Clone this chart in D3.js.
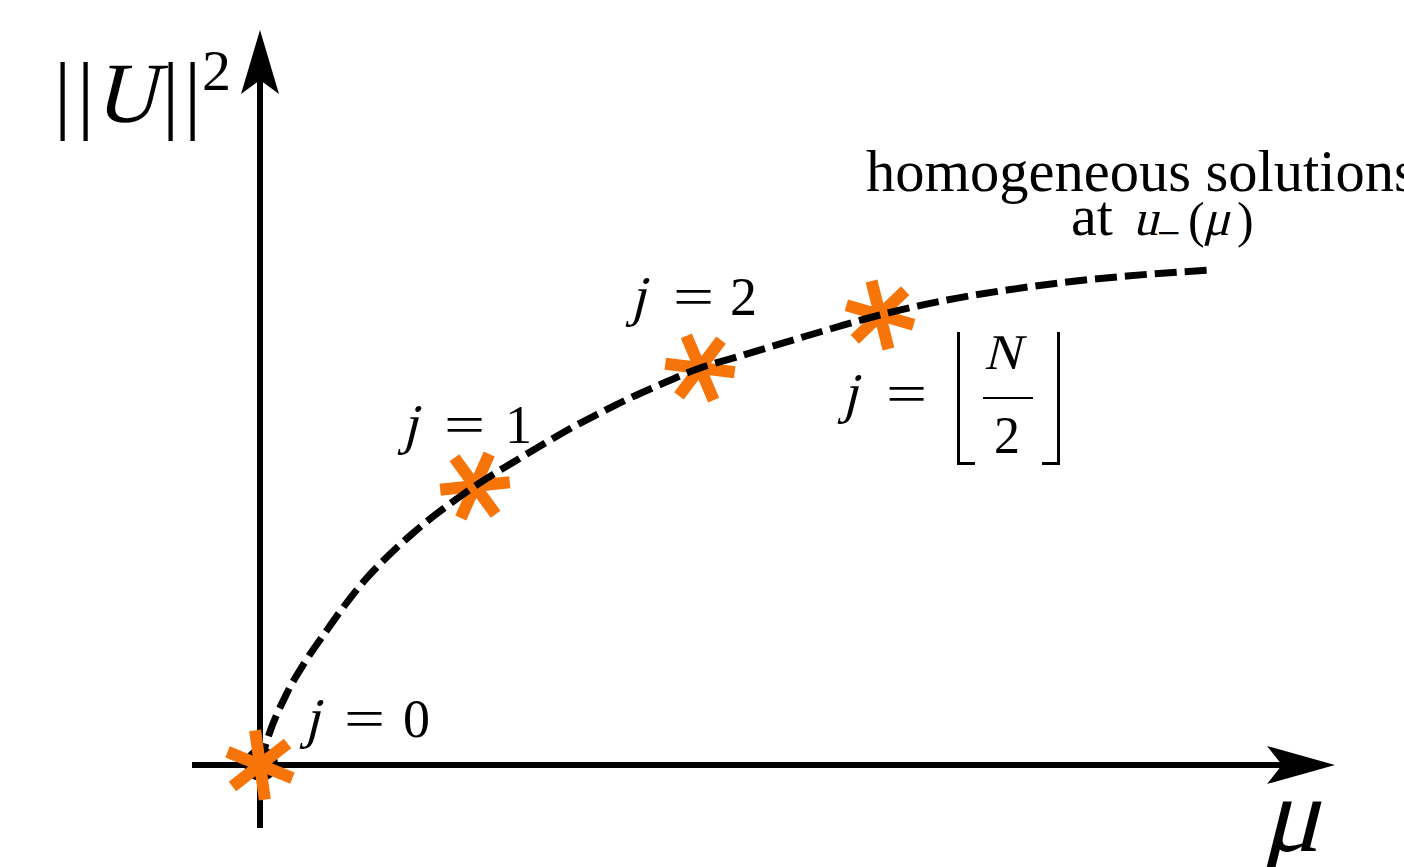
<!DOCTYPE html>
<meta charset="utf-8">
<head>
    <script type="text/javascript" src="https://cdn.jsdelivr.net/npm/d3@7"></script>
    <style>
        body { margin: 0; background: #fff; }
        text { fill: #000; font-family: "Liberation Serif", "Times New Roman", serif; }
    </style>
</head>
<body>
<div id="chart"></div>
<script>
    // curve of homogeneous solutions
    var mu = [0, 0.05, 0.27, 0.45, 0.67, 0.85, 1.05, 1.28, 1.52, 1.75, 1.98, 2.15, 2.57, 2.87, 3.13,
              3.40, 3.68, 3.97, 4.40, 4.77, 5.10, 5.43, 5.77, 6.20, 6.87, 7.47, 8.07, 8.67, 9.20, 9.53];
    var norm = [0, 0.18, 0.72, 1.03, 1.35, 1.60, 1.85, 2.09, 2.31, 2.50, 2.67, 2.79, 3.05, 3.23, 3.38,
                3.52, 3.66, 3.79, 3.97, 4.08, 4.18, 4.28, 4.38, 4.50, 4.65, 4.75, 4.83, 4.89, 4.93, 4.95];

    // the marked solutions j = 0, 1, 2, floor(N/2)
    var markMu = [0, 2.15, 4.40, 6.20];
    var markNorm = [0, 2.79, 3.97, 4.50];
    var markRot = [-8, 24, 37, -14];

    var w = 1404, h = 867;
    var orange = "#f77408";

    var svg = d3.select("#chart").append("svg")
        .attr("width", w).attr("height", h)
        .style("display", "block");

    var x = d3.scaleLinear().domain([0, 10]).range([260, 1260]);
    var y = d3.scaleLinear().domain([0, 5]).range([765, 265]);

    var x0 = x(0), y0 = y(0);

    // text helper, italic is faked with a skew so the serif face is kept
    function txt(g, px, py, s, size, italic, sx) {
        var t = g.append("text")
            .attr("font-size", size)
            .attr("transform", "translate(" + px + "," + py + ")" +
                (italic ? " skewX(-14)" : "") + (sx ? " scale(" + sx + ",1)" : ""))
            .text(s);
        return t;
    }

    // axes with arrow heads
    svg.append("line")
        .attr("x1", 192).attr("y1", y0).attr("x2", 1285).attr("y2", y0)
        .attr("stroke", "#000").attr("stroke-width", 6);
    svg.append("line")
        .attr("x1", x0).attr("y1", 828).attr("x2", x0).attr("y2", 78)
        .attr("stroke", "#000").attr("stroke-width", 6);

    svg.append("path")
        .attr("d", "M1335," + y0 + " L1267," + (y0 - 19) + " L1282," + y0 + " L1267," + (y0 + 19) + " Z")
        .attr("fill", "#000");
    svg.append("path")
        .attr("d", "M" + x0 + ",30 L" + (x0 - 19) + ",94 L" + x0 + ",80 L" + (x0 + 19) + ",94 Z")
        .attr("fill", "#000");

    // black dot at origin under the first marker
    svg.append("circle").attr("cx", x0 + 1).attr("cy", y0 - 1).attr("r", 17).attr("fill", "#000");

    // markers
    var star = "M0,-35 L0,35 M-30.3,-17.5 L30.3,17.5 M-30.3,17.5 L30.3,-17.5";
    var marks = svg.selectAll(".mark")
        .data(markMu.map((m, i) => ({mu: m, n: markNorm[i], rot: markRot[i], i: i})))
        .enter().append("path")
        .attr("class", "mark")
        .attr("d", star)
        .attr("transform", d => "translate(" + x(d.mu) + "," + y(d.n) + ") rotate(" + d.rot + ")")
        .attr("stroke", orange).attr("stroke-width", 12).attr("fill", "none");

    // dashed curve
    var line = d3.line()
        .x(d => x(d[0])).y(d => y(d[1]))
        .curve(d3.curveMonotoneX);
    svg.append("path")
        .datum(mu.map((m, i) => [m, norm[i]]))
        .attr("d", line)
        .attr("fill", "none")
        .attr("stroke", "#000").attr("stroke-width", 7)
        .attr("stroke-dasharray", "22,8");

    marks.filter(d => d.i === 0).raise();

    // axis labels
    var yl = svg.append("g");
    txt(yl, 54, 122, "|", 86);
    txt(yl, 77, 122, "|", 86);
    txt(yl, 94, 122, "U", 86, true);
    txt(yl, 162, 122, "|", 86);
    txt(yl, 184, 122, "|", 86);
    txt(yl, 202, 90, "2", 58);

    txt(svg, 1262, 851, "μ", 108, true);

    // j labels
    function jLabel(px, py, eqDx, valDx, val) {
        var g = svg.append("g").attr("transform", "translate(" + px + "," + py + ")");
        txt(g, 4, 0, "j", 56, true);
        txt(g, eqDx, 0, "=", 54, false, 1.35);
        if (val !== null) txt(g, valDx, 0, val, 54);
        return g;
    }
    jLabel(300, 737, 44, 103, "0");
    jLabel(398, 443, 46, 107, "1");
    jLabel(626, 315, 47, 104, "2");
    jLabel(838, 412, 48, null, null);

    // floor(N/2)
    var fl = svg.append("g");
    txt(fl, 984, 369, "N", 50, true);
    fl.append("line").attr("x1", 983).attr("x2", 1033).attr("y1", 398).attr("y2", 398)
        .attr("stroke", "#000").attr("stroke-width", 2);
    txt(fl, 994, 453, "2", 52);
    fl.append("path")
        .attr("d", "M958.5,332 V463.5 H975 M1058.5,332 V463.5 H1042")
        .attr("fill", "none").attr("stroke", "#000").attr("stroke-width", 3);

    // annotation
    txt(svg, 866, 191, "homogeneous solutions", 58.5);
    var at = svg.append("g");
    txt(at, 1071, 235, "at", 58);
    txt(at, 1133, 235, "u", 50, true);
    txt(at, 1157, 248, "−", 44, false, 0.95);
    txt(at, 1188, 237, "(", 50);
    txt(at, 1203, 235, "μ", 50, true);
    txt(at, 1237, 237, ")", 50);
</script>
</body>
